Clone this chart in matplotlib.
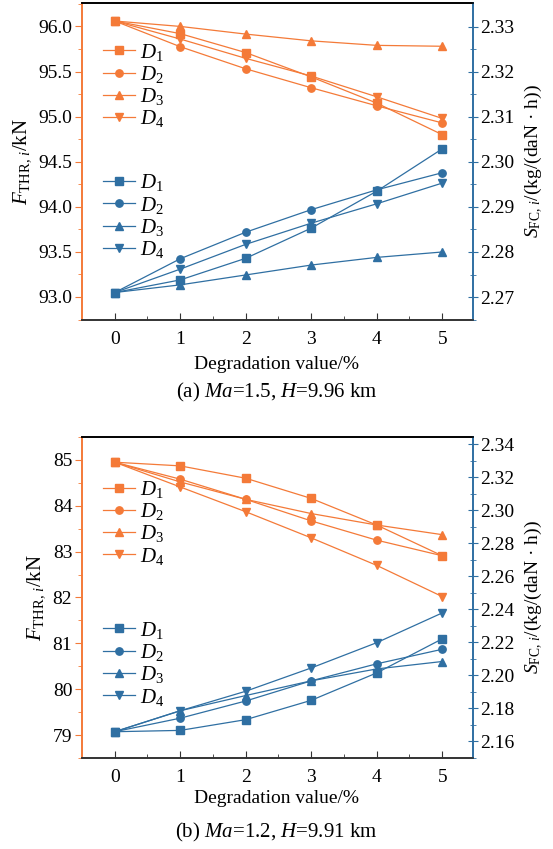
import matplotlib

matplotlib.use("Agg")

import matplotlib.pyplot as plt

plt.rcParams["font.family"] = ["Liberation Serif", "DejaVu Serif"]
plt.rcParams["mathtext.fontset"] = "custom"
plt.rcParams["mathtext.rm"] = "Liberation Serif"
plt.rcParams["mathtext.it"] = "Liberation Serif:italic"

ORANGE = "#F47A38"
BLUE = "#2F6FA2"

degradation = [0, 1, 2, 3, 4, 5]
series_names = ["$D_1$", "$D_2$", "$D_3$", "$D_4$"]
markers = ["s", "o", "^", "v"]

# (a) Ma=1.5, H=9.96 km
thr_a = {
    "D1": [96.06, 95.92, 95.71, 95.44, 95.15, 94.80],
    "D2": [96.06, 95.775, 95.53, 95.32, 95.12, 94.93],
    "D3": [96.06, 96.00, 95.915, 95.84, 95.79, 95.78],
    "D4": [96.06, 95.86, 95.646, 95.45, 95.22, 94.98],
}
sfc_a = {
    "D1": [2.2710, 2.2738, 2.2786, 2.2853, 2.2935, 2.3029],
    "D2": [2.2710, 2.2785, 2.2844, 2.2894, 2.2938, 2.2976],
    "D3": [2.2710, 2.2727, 2.2749, 2.2771, 2.2788, 2.2800],
    "D4": [2.2710, 2.2762, 2.2817, 2.2864, 2.2907, 2.2953],
}

# (b) Ma=1.2, H=9.91 km
thr_b = {
    "D1": [84.95, 84.87, 84.60, 84.16, 83.58, 82.91],
    "D2": [84.95, 84.58, 84.14, 83.67, 83.25, 82.91],
    "D3": [84.95, 84.52, 84.14, 83.83, 83.58, 83.37],
    "D4": [84.95, 84.41, 83.87, 83.30, 82.70, 82.02],
}
sfc_b = {
    "D1": [2.1659, 2.1667, 2.1732, 2.1849, 2.2015, 2.2221],
    "D2": [2.1659, 2.1741, 2.1845, 2.1967, 2.2070, 2.2158],
    "D3": [2.1659, 2.1786, 2.1878, 2.1967, 2.2039, 2.2084],
    "D4": [2.1659, 2.1786, 2.1904, 2.2045, 2.2198, 2.2378],
}

panels = [
    {
        "rect": [0.1483, 0.6231, 0.707, 0.3734],
        "thr": thr_a, "sfc": sfc_a,
        "ylim_l": (92.745, 96.26), "yticks_l": [93.0, 93.5, 94.0, 94.5, 95.0, 95.5, 96.0], "fmt_l": "{:.1f}",
        "ylim_r": (2.2649, 2.3353), "yticks_r": [2.27, 2.28, 2.29, 2.30, 2.31, 2.32, 2.33], "fmt_r": "{:.2f}",
        "leg_o": 0.951, "leg_b": 0.797,
        "xlabel_y": 0.571, "caption_y": 0.538,
        "caption": "(a) $\\mathit{Ma}$=1.5, $\\mathit{H}$=9.96 km",
    },
    {
        "rect": [0.1483, 0.1072, 0.707, 0.3781],
        "thr": thr_b, "sfc": sfc_b,
        "ylim_l": (78.77, 85.25), "yticks_l": [79, 80, 81, 82, 83, 84, 85], "fmt_l": "{:.0f}",
        "ylim_r": (2.1557, 2.3443), "yticks_r": [2.16, 2.18, 2.20, 2.22, 2.24, 2.26, 2.28, 2.30, 2.32, 2.34], "fmt_r": "{:.2f}",
        "leg_o": 0.436, "leg_b": 0.270,
        "xlabel_y": 0.059, "caption_y": 0.019,
        "caption": "(b) $\\mathit{Ma}$=1.2, $\\mathit{H}$=9.91 km",
    },
]

fig = plt.figure(figsize=(5.53, 8.49), dpi=100)
FS = 14

for p in panels:
    ax = fig.add_axes(p["rect"])
    ax2 = ax.twinx()
    keys = ["D1", "D2", "D3", "D4"]
    h_o, h_b = [], []
    for k, m, name in zip(keys, markers, series_names):
        (lo,) = ax.plot(degradation, p["thr"][k], color=ORANGE, marker=m, markersize=5.3, linewidth=0.9, label=name)
        (lb,) = ax2.plot(degradation, p["sfc"][k], color=BLUE, marker=m, markersize=5.3, linewidth=0.9, label=name)
        h_o.append(lo)
        h_b.append(lb)

    ax.set_xlim(-0.5, 5.47)
    ax.set_xticks(degradation)
    ax.set_xticks([0.5, 1.5, 2.5, 3.5, 4.5], minor=True)
    ax.set_ylim(*p["ylim_l"])
    ax.set_yticks(p["yticks_l"])
    ax.set_yticklabels([p["fmt_l"].format(v) for v in p["yticks_l"]])
    lt = p["yticks_l"]
    step = lt[1] - lt[0]
    ax.set_yticks([v + step / 2 for v in lt[:-1]] + [lt[0] - step / 2, lt[-1] + step / 2], minor=True)
    ax2.set_ylim(*p["ylim_r"])
    ax2.set_yticks(p["yticks_r"])
    ax2.set_yticklabels([p["fmt_r"].format(v) for v in p["yticks_r"]])
    rt = p["yticks_r"]
    rstep = rt[1] - rt[0]
    ax2.set_yticks([v + rstep / 2 for v in rt[:-1]] + [rt[0] - rstep / 2], minor=True)

    ax.tick_params(axis="x", which="both", direction="in", labelsize=FS, color="#333333", pad=8)
    ax.tick_params(axis="x", which="major", length=5)
    ax.tick_params(axis="x", which="minor", length=3)
    ax.tick_params(axis="y", which="both", direction="out", colors=ORANGE, labelcolor="black", labelsize=FS, pad=2)
    ax.tick_params(axis="y", which="major", length=5)
    ax.tick_params(axis="y", which="minor", length=3)
    ax2.tick_params(axis="y", which="both", direction="inout", colors=BLUE, labelcolor="black", labelsize=FS, pad=2)
    ax2.tick_params(axis="y", which="major", length=7)
    ax2.tick_params(axis="y", which="minor", length=4)

    ax.spines["left"].set_color(ORANGE)
    ax.spines["left"].set_linewidth(1.4)
    ax2.spines["left"].set_visible(False)
    ax2.spines["right"].set_color(BLUE)
    ax2.spines["right"].set_linewidth(1.4)
    ax.spines["right"].set_visible(False)
    for a in (ax, ax2):
        a.spines["top"].set_color("black")
        a.spines["top"].set_linewidth(1.2)
        a.spines["bottom"].set_color("#333333")
        a.spines["bottom"].set_linewidth(1.2)

    ax.set_ylabel("$F_{\\mathrm{THR},\\,i}$/kN", fontsize=FS + 1, labelpad=4)
    ax2.set_ylabel("$S_{\\mathrm{FC},\\,i}$/(kg/(daN · h))", fontsize=FS, labelpad=6)

    legend_kw = dict(loc="upper left", bbox_transform=fig.transFigure, frameon=False, fontsize=FS + 1,
                     handlelength=1.55, handletextpad=0.25, labelspacing=0.06, borderaxespad=0, borderpad=0)
    ax.legend(handles=h_o, bbox_to_anchor=(0.186, p["leg_o"]), **legend_kw)
    ax2.legend(handles=h_b, bbox_to_anchor=(0.186, p["leg_b"]), **legend_kw)

    fig.text(0.5, p["xlabel_y"], "Degradation value/%", ha="center", va="center", fontsize=FS)
    fig.text(0.5, p["caption_y"], p["caption"], ha="center", va="center", fontsize=FS + 1)

fig.savefig("out.png", dpi=100)
